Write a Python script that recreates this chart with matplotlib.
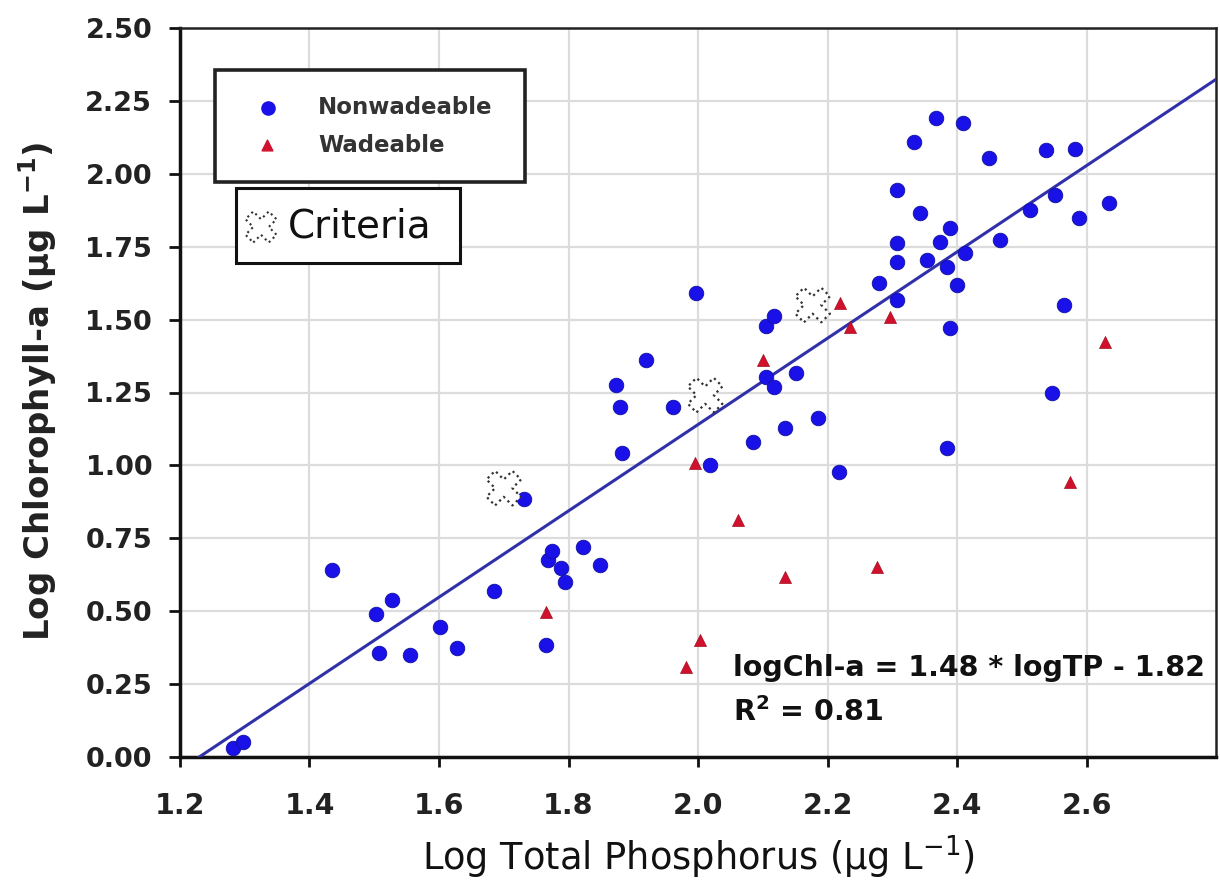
import matplotlib
matplotlib.use("Agg")
import matplotlib.pyplot as plt
from matplotlib.patches import Rectangle
import numpy as np

# ---------------- data ----------------
nonwade_tp = [1.282, 1.297, 1.434, 1.503, 1.528, 1.508, 1.555, 1.602, 1.628, 1.685,
              1.731, 1.766, 1.768, 1.775, 1.789, 1.795, 1.823, 1.849, 1.874, 1.880,
              1.882, 1.920, 1.962, 1.997, 2.018, 2.085, 2.105, 2.118, 2.105, 2.117,
              2.134, 2.151, 2.185, 2.218, 2.280, 2.308, 2.308, 2.308, 2.308, 2.334,
              2.343, 2.354, 2.368, 2.374, 2.385, 2.389, 2.389, 2.385, 2.400, 2.409,
              2.412, 2.449, 2.466, 2.512, 2.538, 2.546, 2.551, 2.566, 2.582, 2.589,
              2.635]
nonwade_chl = [0.031, 0.051, 0.641, 0.490, 0.538, 0.357, 0.350, 0.446, 0.374, 0.569,
               0.885, 0.384, 0.676, 0.706, 0.648, 0.600, 0.720, 0.658, 1.276, 1.200,
               1.043, 1.361, 1.200, 1.591, 1.001, 1.080, 1.478, 1.512, 1.303, 1.269,
               1.128, 1.317, 1.163, 0.977, 1.626, 1.567, 1.944, 1.763, 1.698, 2.109,
               1.866, 1.704, 2.191, 1.766, 1.680, 1.814, 1.471, 1.060, 1.619, 2.174,
               1.728, 2.054, 1.773, 1.876, 2.082, 1.248, 1.927, 1.550, 2.085, 1.848,
               1.900]

wade_tp = [1.766, 1.982, 1.995, 2.003, 2.062, 2.100, 2.135, 2.220, 2.234, 2.277,
           2.297, 2.574, 2.628]
wade_chl = [0.497, 0.309, 1.008, 0.401, 0.813, 1.361, 0.617, 1.557, 1.475, 0.652,
            1.509, 0.943, 1.423]

criteria_tp = [1.700, 2.011, 2.177]
criteria_chl = [0.922, 1.241, 1.550]

slope = 1.48
intercept = -1.82
r2 = 0.81

x_ticks = [1.2, 1.4, 1.6, 1.8, 2.0, 2.2, 2.4, 2.6]
y_ticks = [0.0, 0.25, 0.5, 0.75, 1.0, 1.25, 1.5, 1.75, 2.0, 2.25, 2.5]
x_lim = (1.2, 2.8)
y_lim = (0.0, 2.5)

# ---------------- figure ----------------
W, H = 1220, 882
fig = plt.figure(figsize=(W / 100, H / 100), dpi=100)
L, R, T, B = 180, 1216, 28, 757
ax = fig.add_axes([L / W, 1 - B / H, (R - L) / W, (B - T) / H])

def axf(px, py):
    return (px - L) / (R - L), (B - py) / (B - T)

blue = "#1a10e8"
red = "#d0102c"

ax.set_xlim(*x_lim)
ax.set_ylim(*y_lim)
ax.set_xticks(x_ticks)
ax.set_yticks(y_ticks)
ax.set_xticklabels([f"{v:.1f}" for v in x_ticks], fontsize=20.5,
                   fontweight="bold", color="#222222")
ax.set_yticklabels([f"{v:.2f}" for v in y_ticks], fontsize=19.5,
                   fontweight="bold", color="#2a2a2a")
ax.grid(True, color="#dcdcdc", linewidth=1.6, zorder=0)
ax.set_axisbelow(True)

for s in ["left", "bottom"]:
    ax.spines[s].set_linewidth(2.5)
    ax.spines[s].set_color("#111111")
for s in ["top", "right"]:
    ax.spines[s].set_linewidth(1.8)
    ax.spines[s].set_color("#222222")

ax.tick_params(axis="x", direction="out", length=7, width=2, colors="#111111",
               pad=18)
ax.tick_params(axis="y", direction="out", length=8, width=2, colors="#111111",
               pad=12)
for lab in ax.get_xticklabels() + ax.get_yticklabels():
    lab.set_color("#222222")

# regression line
x0 = -intercept / slope
xl = np.array([x0, x_lim[1]])
ax.plot(xl, slope * xl + intercept, color="#3030a8", linewidth=2.2, zorder=3,
        clip_on=True)

ax.scatter(nonwade_tp, nonwade_chl, s=110, color=blue, edgecolors="#1010a0",
           linewidths=0.6, zorder=4, clip_on=False)
ax.scatter(wade_tp, wade_chl, s=75, marker="^", color=red, edgecolors="#a01020",
           linewidths=0.5, zorder=5)
ax.scatter(criteria_tp, criteria_chl, s=620, marker="X", facecolor="white",
           edgecolors="#333333", linewidths=1.6, linestyles=":", zorder=6)

# axis labels
fig.text(38 / W, 1 - 391 / H, "Log Chlorophyll-a (\u00b5g L$^{\\mathbf{-1}}$)",
         fontsize=24.5, fontweight="bold", rotation=90, ha="center", va="center",
         color="#222222")
fig.text(698 / W, 1 - 870 / H, "Log Total Phosphorus (\u00b5g L$^{-1}$)",
         fontsize=26.5, ha="center", va="baseline", color="#111111")

# legend box
lx0, ly0 = axf(215, 182)
lx1, ly1 = axf(525, 70)
ax.add_patch(Rectangle((lx0, ly0), lx1 - lx0, ly1 - ly0, transform=ax.transAxes,
                       fill=True, facecolor="white", edgecolor="#222222",
                       linewidth=2.6, zorder=7))
px, py = axf(268, 108)
ax.scatter([px], [py], s=90, color=blue, transform=ax.transAxes, zorder=8,
           clip_on=False)
tx, ty = axf(318, 108)
ax.text(tx, ty, "Nonwadeable", transform=ax.transAxes, fontsize=16.5,
        fontweight="bold", va="center", ha="left", color="#333333", zorder=8)
px, py = axf(267, 145)
ax.scatter([px], [py], s=60, marker="^", color=red, transform=ax.transAxes,
           zorder=8, clip_on=False)
tx, ty = axf(318, 145)
ax.text(tx, ty, "Wadeable", transform=ax.transAxes, fontsize=16.5,
        fontweight="bold", va="center", ha="left", color="#333333", zorder=8)

# criteria box
cx0, cy0 = axf(236, 263)
cx1, cy1 = axf(460, 188)
ax.add_patch(Rectangle((cx0, cy0), cx1 - cx0, cy1 - cy0, transform=ax.transAxes,
                       fill=True, facecolor="white", edgecolor="#111111",
                       linewidth=2.2, zorder=7))
px, py = axf(261, 227)
ax.scatter([px], [py], s=500, marker="X", facecolor="white", edgecolors="#333333",
           linewidths=1.5, linestyles=":", transform=ax.transAxes, zorder=8,
           clip_on=False)
tx, ty = axf(288, 226)
ax.text(tx, ty, "Criteria", transform=ax.transAxes, fontsize=28,
        va="center", ha="left", color="#111111", zorder=8)

# equation
tx, ty = axf(733, 668)
ax.text(tx, ty, f"logChl-a = {slope:.2f} * logTP - {abs(intercept):.2f}",
        transform=ax.transAxes, fontsize=20.5, fontweight="bold", va="center",
        ha="left", color="#111111", zorder=8)
tx, ty = axf(733, 712)
ax.text(tx, ty, f"R$^\\mathbf{{2}}$ = {r2:.2f}", transform=ax.transAxes,
        fontsize=20.5, fontweight="bold", va="center", ha="left", color="#111111",
        zorder=8)

fig.savefig("out.png", dpi=100, facecolor="white")
